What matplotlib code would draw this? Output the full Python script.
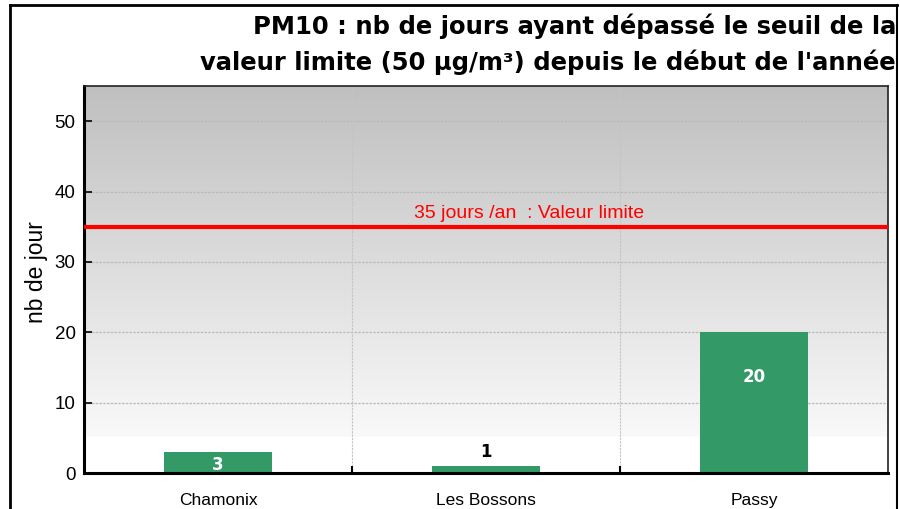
import numpy as np
import matplotlib
matplotlib.use("Agg")
import matplotlib.pyplot as plt
from matplotlib.lines import Line2D

# data
stations = ["Chamonix", "Les Bossons", "Passy"]
jours = [3, 1, 20]
label_y = [1.2, 3.0, 13.7]          # where each value label sits
label_colors = ["white", "black", "white"]
seuil = 35
seuil_label = "35 jours /an  : Valeur limite"
title_lines = ["PM10 : nb de jours ayant dépassé le seuil de la",
               "valeur limite (50 µg/m³) depuis le début de l'année"]

plt.rcParams["font.family"] = ["Liberation Sans", "DejaVu Sans"]

fig = plt.figure(figsize=(9, 5.09), dpi=100)
ax = fig.add_axes([84 / 900, 1 - 473 / 509, 804 / 900, 387 / 509])

ymax = 55
x = np.arange(len(stations))

# grey-to-white background (row 0 = bottom)
grad = np.linspace(0, 1, 256)
shade = 0.75 + (1 - 0.75) * (1 - grad)
shade[grad < 5 / ymax] = 1.0
img = np.dstack([shade, shade, shade]).reshape(256, 1, 3)
ax.imshow(img, extent=(-0.5, len(stations) - 0.5, 0, ymax), aspect="auto",
          origin="lower", zorder=0, interpolation="bilinear")
ax.set_xlim(-0.5, len(stations) - 0.5)
ax.set_ylim(0, ymax)

# grid
for yv in range(10, 60, 10):
    ax.axhline(yv, color="#bababa", lw=0.9, ls=(0, (2, 1)), zorder=1)
for xv in x[:-1] + 0.5:
    ax.axvline(xv, color="#c4c4c4", lw=0.8, ls=(0, (2, 1)), zorder=1)

ax.bar(x, jours, width=0.4, color="#339966", zorder=2)
for xi, ly, v, c in zip(x, label_y, jours, label_colors):
    ax.text(xi, ly, str(v), ha="center", va="center", color=c,
            fontsize=12, fontweight="bold", family="DejaVu Sans", zorder=4)

ax.axhline(seuil, color="#ff0000", lw=3, zorder=3)
ax.text(1.16, seuil + 1.9, seuil_label, color="#ff0000", fontsize=14,
        ha="center", va="center", zorder=4)

ax.set_yticks(range(0, 60, 10))
ax.tick_params(axis="y", direction="in", length=6, width=1.2, labelsize=13.5, pad=6)
ax.set_xticks(x[:-1] + 0.5)
ax.set_xticklabels([])
ax.tick_params(axis="x", direction="in", length=5, width=1.5)
for xi, name in zip(x, stations):
    ax.text(xi, -0.07, name, transform=ax.get_xaxis_transform(),
            ha="center", va="center", fontsize=12.5)
ax.set_ylabel("nb de jour", fontsize=16.5)
ax.yaxis.set_label_coords(-36 / 804, 0.52)

for side in ["left", "bottom"]:
    ax.spines[side].set_linewidth(2.2)
for side in ["top", "right"]:
    ax.spines[side].set_linewidth(1.2)
    ax.spines[side].set_color("#222222")

# outer frame
fig.add_artist(Line2D([10 / 900, 10 / 900], [0, 1 - 5 / 509], color="black", lw=2))
fig.add_artist(Line2D([10 / 900, 897 / 900], [1 - 5 / 509, 1 - 5 / 509], color="black", lw=2))
fig.add_artist(Line2D([897 / 900, 897 / 900], [0, 1 - 5 / 509], color="black", lw=1.5))

fig.text(896 / 900, 1 - 26 / 509, title_lines[0], ha="right", va="center",
         fontsize=17.5, fontweight="bold", family="DejaVu Sans")
fig.text(896 / 900, 1 - 62 / 509, title_lines[1], ha="right", va="center",
         fontsize=17.5, fontweight="bold", family="DejaVu Sans")

fig.savefig("out.png", dpi=100)
